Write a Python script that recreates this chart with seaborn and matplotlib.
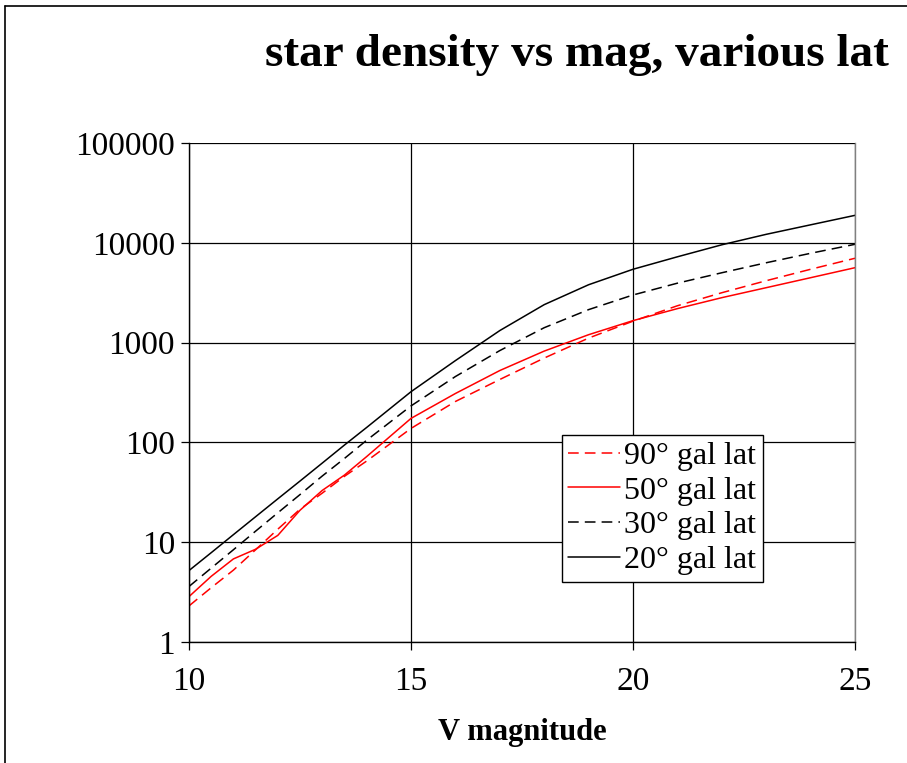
import numpy as np
import pandas as pd
import matplotlib
matplotlib.use("Agg")
import matplotlib.pyplot as plt
from matplotlib.lines import Line2D
import seaborn as sns

# V magnitude sample points
mag = [10, 10.5, 11, 11.5, 12, 12.5, 13, 13.5, 14, 15, 16, 17, 18, 19, 20, 21, 22, 23, 24, 25]

# Star density (per sq. deg) at each galactic latitude
lat90 = [2.3, 3.5, 5.25, 8.4, 13.5, 21.4, 31, 45.7, 65, 138, 257, 427, 700, 1110, 1640, 2340, 3160, 4170, 5430, 7000]
lat50 = [2.85, 4.55, 6.8, 8.5, 11.7, 20.9, 33, 47, 72, 174, 309, 525, 822, 1200, 1660, 2190, 2820, 3550, 4470, 5630]
lat30 = [3.6, 5.5, 8.4, 12.9, 19.7, 30, 46, 69, 105, 232, 457, 832, 1410, 2140, 3000, 3940, 5010, 6310, 7850, 9660]
lat20 = [5.2, 7.85, 11.9, 18, 27.2, 41, 62, 94, 141, 322, 660, 1320, 2400, 3800, 5430, 7240, 9550, 12160, 15140, 18840]

labels = ["90° gal lat", "50° gal lat", "30° gal lat", "20° gal lat"]
series = [lat90, lat50, lat30, lat20]
colors = ["#ff0000", "#ff0000", "#000000", "#000000"]
dashed = [True, False, True, False]
DASH = (7, 4)

frames = [pd.DataFrame({"mag": mag, "density": vals, "series": lab})
          for lab, vals in zip(labels, series)]
df = pd.concat(frames, ignore_index=True)

sns.set_style("white")
plt.rcParams["font.family"] = ["Liberation Serif", "DejaVu Serif"]
plt.rcParams["text.color"] = "black"
plt.rcParams["xtick.color"] = "black"
plt.rcParams["ytick.color"] = "black"
plt.rcParams["axes.labelcolor"] = "black"

fig = plt.figure(figsize=(9.07, 7.63), dpi=100)
ax = fig.add_axes([189 / 907, 1 - 642 / 763, (855 - 189) / 907, (642 - 143) / 763])

dash_map = {lab: (DASH if d else "") for lab, d in zip(labels, dashed)}
pal = dict(zip(labels, colors))
sns.lineplot(data=df, x="mag", y="density", hue="series", style="series",
             palette=pal, dashes=dash_map, hue_order=labels, style_order=labels,
             linewidth=1.1, ax=ax, legend=False)

ax.set_yscale("log")
ax.set_xlim(10, 25)
ax.set_ylim(1, 100000)
ax.set_xticks([10, 15, 20, 25])
ax.set_yticks([1, 10, 100, 1000, 10000, 100000])
ax.set_yticklabels(["1", "10", "100", "1000", "10000", "100000"])
ax.yaxis.set_minor_locator(matplotlib.ticker.NullLocator())
ax.grid(True, color="black", linewidth=0.9)
ax.tick_params(axis="both", which="major", direction="out", length=6, width=0.9,
               color="black", labelcolor="black", labelsize=24, pad=4,
               left=True, bottom=True)
ax.tick_params(axis="x", pad=12)

ax.spines["top"].set_visible(False)
for side in ["left", "bottom", "right"]:
    ax.spines[side].set_color("black")
    ax.spines[side].set_linewidth(1.0)
ax.spines["right"].set_color("#808080")

ax.set_xlabel("V magnitude", fontsize=22, fontweight="bold", labelpad=15)
ax.set_ylabel("")

handles = []
for c, d in zip(colors, dashed):
    h = Line2D([0], [0], color=c, lw=1.1)
    if d:
        h.set_dashes(DASH)
    handles.append(h)
leg = ax.legend(handles, labels, loc="upper left",
                bbox_to_anchor=((562 - 189) / 666, 1 - (435 - 143) / 499),
                fontsize=23, frameon=True, fancybox=False, framealpha=1,
                edgecolor="black", handlelength=1.6, handletextpad=0.15,
                labelspacing=0.17, borderpad=0.2, borderaxespad=0)
leg.get_frame().set_linewidth(1.0)

fig.text(577 / 907, 1 - 55 / 763, "star density vs mag, various lat",
         ha="center", va="center", fontsize=34, fontweight="bold")

# outer chart frame (left and top edges)
fig.add_artist(Line2D([5 / 907, 5 / 907], [0, 1 - 6 / 763], transform=fig.transFigure,
                      color="black", lw=1.2))
fig.add_artist(Line2D([5 / 907, 1], [1 - 6 / 763, 1 - 6 / 763], transform=fig.transFigure,
                      color="black", lw=1.2))

fig.savefig("out.png", dpi=100)
